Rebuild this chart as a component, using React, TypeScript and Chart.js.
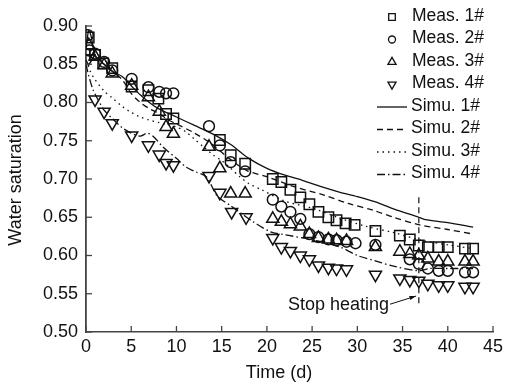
import React, { useEffect, useRef } from 'react';
import { Chart, registerables } from 'chart.js';

Chart.register(...registerables);

// ---- Measured data ----
const meas1Days = [0.3, 1.0, 1.9, 2.9, 5.05, 6.9, 8.0, 8.85, 9.66, 14.8, 16.0, 17.6, 20.65, 21.6, 22.6, 23.7, 24.7, 25.7, 26.8, 27.7, 28.7, 29.7, 32.0, 34.7, 35.8, 36.8, 37.8, 39.0, 40.0, 41.9, 42.8];
const meas1Sat = [0.885, 0.862, 0.851, 0.845, 0.821, 0.816, 0.805, 0.785, 0.779, 0.751, 0.731, 0.72, 0.7, 0.696, 0.686, 0.676, 0.667, 0.657, 0.65, 0.646, 0.642, 0.64, 0.632, 0.626, 0.621, 0.613, 0.611, 0.611, 0.611, 0.609, 0.609];

const meas2Days = [0.2, 0.4, 1.0, 2.0, 2.9, 5.05, 6.9, 8.1, 8.85, 9.66, 13.6, 14.8, 16.0, 17.6, 20.65, 21.6, 22.6, 23.7, 24.7, 25.7, 26.8, 27.7, 28.8, 29.8, 32.0, 35.8, 36.8, 37.8, 39.0, 40.0, 41.9, 42.8];
const meas2Sat = [0.888, 0.868, 0.864, 0.853, 0.842, 0.831, 0.82, 0.814, 0.812, 0.812, 0.769, 0.744, 0.722, 0.71, 0.673, 0.664, 0.657, 0.648, 0.628, 0.624, 0.621, 0.62, 0.618, 0.616, 0.614, 0.595, 0.589, 0.583, 0.58, 0.58, 0.578, 0.578];

const meas3Days = [0.3, 1.0, 2.0, 2.9, 5.05, 6.9, 8.1, 8.85, 9.66, 13.6, 14.8, 16.0, 17.6, 20.65, 21.6, 22.6, 23.7, 24.7, 25.7, 26.8, 27.7, 28.8, 32.0, 34.7, 35.8, 36.8, 37.8, 39.0, 40.0, 41.9, 42.8];
const meas3Sat = [0.875, 0.86, 0.849, 0.838, 0.822, 0.807, 0.788, 0.768, 0.759, 0.742, 0.714, 0.681, 0.681, 0.648, 0.644, 0.641, 0.638, 0.628, 0.623, 0.621, 0.62, 0.619, 0.611, 0.605, 0.602, 0.6, 0.596, 0.592, 0.592, 0.592, 0.592];

const meas4Days = [0.3, 1.0, 2.0, 2.9, 5.05, 6.9, 8.1, 8.85, 9.66, 13.6, 14.8, 16.1, 17.7, 20.65, 21.6, 22.6, 23.7, 24.7, 25.7, 26.8, 27.7, 28.8, 32.0, 34.7, 35.8, 36.8, 37.8, 39.0, 40.0, 41.9, 42.8];
const meas4Sat = [0.858, 0.804, 0.788, 0.773, 0.757, 0.744, 0.732, 0.721, 0.718, 0.704, 0.682, 0.657, 0.65, 0.623, 0.611, 0.606, 0.6, 0.595, 0.587, 0.584, 0.583, 0.582, 0.575, 0.57, 0.568, 0.567, 0.563, 0.561, 0.561, 0.559, 0.559];

// ---- Simulated curves ----
const simu1Days = [0, 0.3, 0.6, 1, 2, 3, 4, 5, 6, 7, 8, 10, 12, 14, 16, 18, 20, 22, 24, 26, 28, 30, 32, 34, 36.8, 37.5, 40, 42.8];
const simu1Sat = [0.87, 0.894, 0.885, 0.862, 0.85, 0.84, 0.834, 0.822, 0.81, 0.8, 0.792, 0.781, 0.77, 0.759, 0.745, 0.727, 0.714, 0.705, 0.698, 0.69, 0.683, 0.677, 0.67, 0.661, 0.65, 0.647, 0.643, 0.637];

const simu2Days = [0, 0.4, 1, 2, 3, 4, 5, 6, 7, 8, 9, 10, 12, 14, 15.6, 17.8, 20, 23, 26.3, 29, 31.8, 34, 36.9, 40, 42.8];
const simu2Sat = [0.87, 0.868, 0.86, 0.85, 0.84, 0.83, 0.812, 0.8, 0.792, 0.786, 0.778, 0.772, 0.76, 0.745, 0.729, 0.711, 0.703, 0.69, 0.679, 0.668, 0.659, 0.65, 0.64, 0.634, 0.628];

const simu3Days = [0, 0.5, 1, 2, 3, 4, 5, 6, 7, 8, 9, 10, 11, 12, 13, 14, 15, 16, 17, 18, 19.4, 22, 25, 28, 31, 34, 37, 40, 42.8];
const simu3Sat = [0.855, 0.84, 0.83, 0.815, 0.805, 0.795, 0.787, 0.781, 0.777, 0.774, 0.771, 0.768, 0.762, 0.752, 0.742, 0.732, 0.724, 0.714, 0.703, 0.694, 0.686, 0.671, 0.662, 0.649, 0.638, 0.63, 0.62, 0.614, 0.609];

const simu4Days = [0, 0.3, 0.8, 1.5, 2, 3, 4, 5, 6, 6.8, 7.5, 8.5, 10, 11, 12, 13.3, 14.5, 16, 17.4, 18.5, 20.4, 22, 24.4, 28.1, 30, 32, 34, 36.8, 38, 40, 42.8];
const simu4Sat = [0.85, 0.835, 0.816, 0.8, 0.79, 0.778, 0.767, 0.76, 0.756, 0.76, 0.755, 0.742, 0.727, 0.716, 0.71, 0.703, 0.678, 0.665, 0.653, 0.644, 0.631, 0.627, 0.622, 0.611, 0.6, 0.593, 0.586, 0.58, 0.583, 0.583, 0.583];

// ---- Axes / annotation ----
const xTicks = [0, 5, 10, 15, 20, 25, 30, 35, 40, 45];
const yTicks = [0.5, 0.55, 0.6, 0.65, 0.7, 0.75, 0.8, 0.85, 0.9];
const stopDay = 36.8;
const stopLineTop = 0.676;
const stopLineBottom = 0.537;
const stopLabel = 'Stop heating';
const stopLabelEnd = { x: 33.5, y: 0.535 };
const stopArrowTip = { x: 36.5, y: 0.547 };

const seriesNames = ['Meas. 1#', 'Meas. 2#', 'Meas. 3#', 'Meas. 4#', 'Simu. 1#', 'Simu. 2#', 'Simu. 3#', 'Simu. 4#'];

const FONT = '"Liberation Sans", Arial, Helvetica, sans-serif';
const INK = '#111';
const AXIS = '#444';

const pts = (xs: number[], ys: number[]) => xs.map((x, i) => ({ x, y: ys[i] }));

const DASHES: number[][] = [[], [6, 4], [1.5, 4], [8, 3, 1.5, 3]];

function drawMarker(ctx: CanvasRenderingContext2D, kind: number, x: number, y: number, s: number) {
  ctx.beginPath();
  if (kind === 0) {
    ctx.rect(x - s, y - s, 2 * s, 2 * s);
  } else if (kind === 1) {
    ctx.arc(x, y, s, 0, Math.PI * 2);
  } else if (kind === 2) {
    const r = s * 1.3;
    ctx.moveTo(x, y - r);
    ctx.lineTo(x + r * 0.866, y + r * 0.5);
    ctx.lineTo(x - r * 0.866, y + r * 0.5);
    ctx.closePath();
  } else {
    const r = s * 1.3;
    ctx.moveTo(x, y + r);
    ctx.lineTo(x + r * 0.866, y - r * 0.5);
    ctx.lineTo(x - r * 0.866, y - r * 0.5);
    ctx.closePath();
  }
  ctx.stroke();
}

const overlay = {
  id: 'overlay',
  afterDraw(chart: any) {
    const { ctx, chartArea } = chart;
    const xs = chart.scales.x;
    const ys = chart.scales.y;
    ctx.save();

    // inward tick marks
    ctx.strokeStyle = AXIS;
    ctx.lineWidth = 1.3;
    ctx.setLineDash([]);
    xTicks.forEach((t) => {
      const px = xs.getPixelForValue(t);
      ctx.beginPath();
      ctx.moveTo(px, chartArea.bottom);
      ctx.lineTo(px, chartArea.bottom - 6);
      ctx.stroke();
    });
    yTicks.forEach((t) => {
      const py = ys.getPixelForValue(t);
      ctx.beginPath();
      ctx.moveTo(chartArea.left, py);
      ctx.lineTo(chartArea.left + 6, py);
      ctx.stroke();
    });

    // stop heating line
    ctx.strokeStyle = INK;
    ctx.lineWidth = 1.2;
    ctx.setLineDash([6, 4]);
    const sx = xs.getPixelForValue(stopDay);
    ctx.beginPath();
    ctx.moveTo(sx, ys.getPixelForValue(stopLineTop));
    ctx.lineTo(sx, ys.getPixelForValue(stopLineBottom));
    ctx.stroke();
    ctx.setLineDash([]);

    // label + arrow
    ctx.font = `18px ${FONT}`;
    ctx.fillStyle = INK;
    ctx.textAlign = 'right';
    ctx.textBaseline = 'middle';
    const lx = xs.getPixelForValue(stopLabelEnd.x);
    const ly = ys.getPixelForValue(stopLabelEnd.y);
    ctx.fillText(stopLabel, lx, ly);
    const ax = xs.getPixelForValue(stopArrowTip.x);
    const ay = ys.getPixelForValue(stopArrowTip.y);
    const bx = lx + 1;
    const by = ly - 1;
    ctx.lineWidth = 1;
    ctx.beginPath();
    ctx.moveTo(bx, by);
    ctx.lineTo(ax, ay);
    ctx.stroke();
    const ang = Math.atan2(ay - by, ax - bx);
    ctx.beginPath();
    ctx.moveTo(ax, ay);
    ctx.lineTo(ax - 7 * Math.cos(ang - 0.3), ay - 7 * Math.sin(ang - 0.3));
    ctx.lineTo(ax - 7 * Math.cos(ang + 0.3), ay - 7 * Math.sin(ang + 0.3));
    ctx.closePath();
    ctx.fill();

    // legend
    ctx.textAlign = 'left';
    ctx.textBaseline = 'middle';
    ctx.font = `17.5px ${FONT}`;
    const rowY0 = 16;
    const rowH = 22.5;
    seriesNames.forEach((name, i) => {
      const cy = rowY0 + i * rowH;
      ctx.strokeStyle = INK;
      ctx.lineWidth = 1.3;
      if (i < 4) {
        drawMarker(ctx, i, 392, cy + 1, i === 0 ? 3.3 : i === 1 ? 3.5 : 3.6);
        ctx.fillText(name, 412, cy);
      } else {
        ctx.setLineDash(DASHES[i - 4]);
        ctx.beginPath();
        ctx.moveTo(377, cy + 1);
        ctx.lineTo(407, cy + 1);
        ctx.stroke();
        ctx.setLineDash([]);
        ctx.fillText(name, 411, cy);
      }
    });

    // axis titles
    ctx.font = `18px ${FONT}`;
    ctx.textAlign = 'center';
    ctx.textBaseline = 'middle';
    ctx.fillText('Time (d)', 279, 373);
    ctx.save();
    ctx.translate(16, 180);
    ctx.rotate(-Math.PI / 2);
    ctx.fillText('Water saturation', 0, 0);
    ctx.restore();

    ctx.restore();
  },
};

export default function App() {
  const ref = useRef<HTMLCanvasElement | null>(null);

  useEffect(() => {
    if (!ref.current) return;
    const measStyles = ['rect', 'circle', 'triangle', 'triangle'];
    const measRadius = [5.2 * 1.414, 5.4, 7, 7];
    const measSets = [
      pts(meas1Days, meas1Sat),
      pts(meas2Days, meas2Sat),
      pts(meas3Days, meas3Sat),
      pts(meas4Days, meas4Sat),
    ];
    const simuSets = [
      pts(simu1Days, simu1Sat),
      pts(simu2Days, simu2Sat),
      pts(simu3Days, simu3Sat),
      pts(simu4Days, simu4Sat),
    ];
    const datasets: any[] = [];
    simuSets.forEach((d, i) => {
      datasets.push({
        label: seriesNames[4 + i],
        data: d,
        showLine: true,
        borderColor: INK,
        borderWidth: 1.3,
        borderDash: DASHES[i],
        pointRadius: 0,
        fill: false,
        tension: 0.3,
      });
    });
    measSets.forEach((d, i) => {
      datasets.push({
        label: seriesNames[i],
        data: d,
        showLine: false,
        pointStyle: measStyles[i],
        rotation: i === 3 ? 180 : 0,
        pointRadius: measRadius[i],
        pointBorderColor: INK,
        pointBackgroundColor: 'rgba(255,255,255,0)',
        pointBorderWidth: 1.5,
      });
    });

    const chart = new Chart(ref.current, {
      type: 'scatter',
      data: { datasets },
      options: {
        animation: false,
        responsive: false,
        maintainAspectRatio: false,
        layout: { padding: { top: 26, right: 15, left: 0, bottom: 0 } },
        plugins: {
          legend: { display: false },
          tooltip: { enabled: false },
        },
        scales: {
          x: {
            type: 'linear',
            min: 0,
            max: 45,
            afterBuildTicks: (s: any) => {
              s.ticks = xTicks.map((v) => ({ value: v }));
            },
            afterFit: (s: any) => {
              s.height = 53;
            },
            ticks: {
              color: INK,
              font: { family: FONT, size: 18 },
              padding: 4,
              maxRotation: 0,
            },
            grid: { display: true, drawOnChartArea: false, drawTicks: false },
            border: { display: true, color: AXIS, width: 1.5 },
          },
          y: {
            type: 'linear',
            min: 0.5,
            max: 0.9,
            afterBuildTicks: (s: any) => {
              s.ticks = yTicks.map((v) => ({ value: v }));
            },
            afterFit: (s: any) => {
              s.width = 86;
            },
            ticks: {
              color: INK,
              font: { family: FONT, size: 18 },
              padding: 8,
              callback: (v: any) => Number(v).toFixed(2),
            },
            grid: { display: true, drawOnChartArea: false, drawTicks: false },
            border: { display: true, color: AXIS, width: 1.8 },
          },
        },
      },
      plugins: [overlay],
    });
    return () => chart.destroy();
  }, []);

  return (
    <div style={{ position: 'absolute', left: 0, top: 0, width: 508, height: 385, background: '#fff' }}>
      <canvas ref={ref} width={508} height={385} style={{ width: 508, height: 385, display: 'block' }} />
    </div>
  );
}
